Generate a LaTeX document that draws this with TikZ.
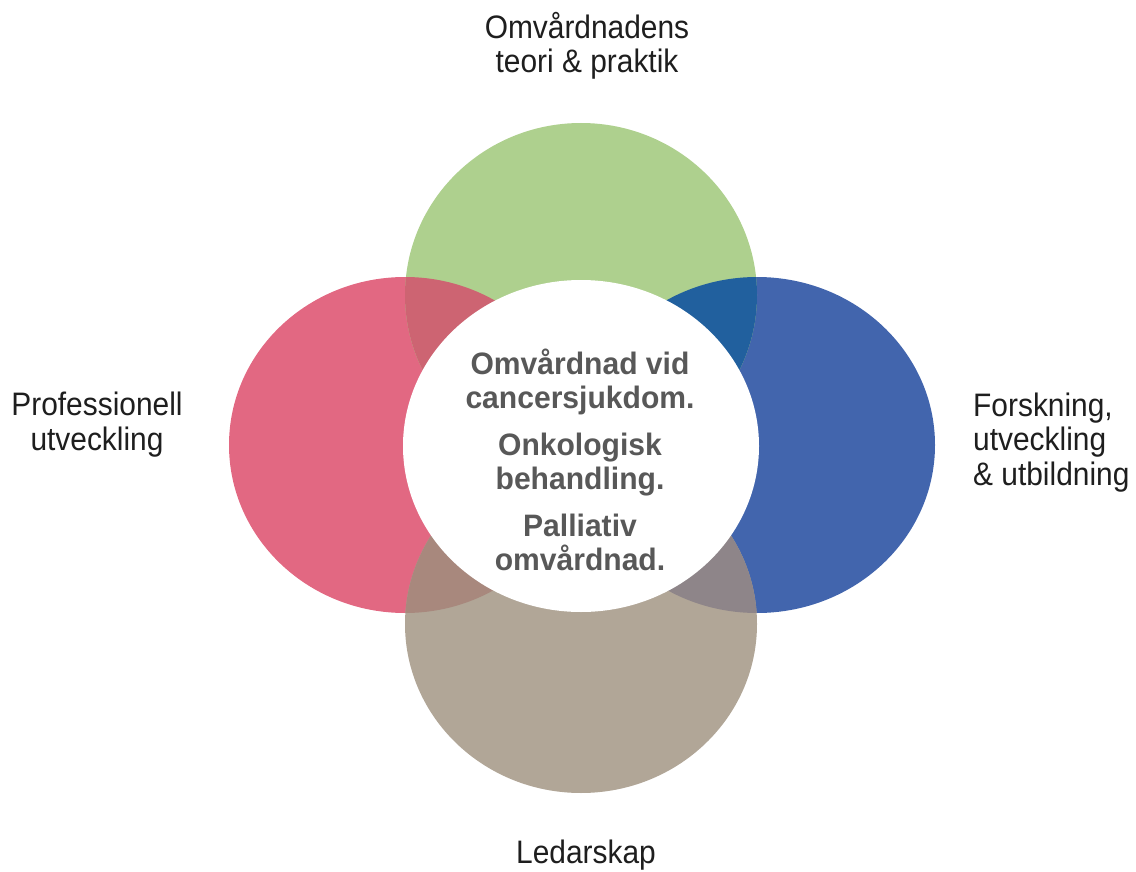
\documentclass[tikz,border=0pt]{standalone}
\usepackage{fontspec}
\setmainfont{Liberation Sans}
\newfontfamily\labelfont[FakeStretch=0.92]{Liberation Sans}
\newfontfamily\centerfont[FakeStretch=0.97]{Liberation Sans Bold}
\definecolor{cgreen}{RGB}{174,208,142}
\definecolor{cpink}{RGB}{226,104,130}
\definecolor{cblue}{RGB}{66,101,173}
\definecolor{ctaupe}{RGB}{177,166,151}
\definecolor{cgp}{RGB}{205,100,114}
\definecolor{cgb}{RGB}{33,96,158}
\definecolor{cpt}{RGB}{168,136,125}
\definecolor{cbt}{RGB}{142,133,137}
\definecolor{ctext}{RGB}{88,88,88}
\definecolor{clabel}{RGB}{30,30,30}
\begin{document}
\begin{tikzpicture}[x=1pt,y=-1pt,
  lbl/.style={inner sep=0pt,anchor=base,text=clabel,font=\labelfont\fontsize{32.5}{34.5}\selectfont},
  ctr/.style={inner sep=0pt,anchor=base,text=ctext,align=center,font=\centerfont\fontsize{31}{34}\selectfont}]
\useasboundingbox (0,0) rectangle (1136,872);
% ellipses
\fill[cpink] (405,445) ellipse [x radius=176,y radius=168];
\fill[cblue] (757,445) ellipse [x radius=178,y radius=168];
\fill[cgreen] (581,295) ellipse [x radius=176,y radius=172];
\fill[ctaupe] (581,624) ellipse [x radius=176,y radius=169];
% overlaps
\begin{scope}
  \clip (581,295) ellipse [x radius=176,y radius=172];
  \fill[cgp] (405,445) ellipse [x radius=176,y radius=168];
  \fill[cgb] (757,445) ellipse [x radius=178,y radius=168];
\end{scope}
\begin{scope}
  \clip (581,624) ellipse [x radius=176,y radius=169];
  \fill[cpt] (405,445) ellipse [x radius=176,y radius=168];
  \fill[cbt] (757,445) ellipse [x radius=178,y radius=168];
\end{scope}
% centre
\fill[white] (581,446) ellipse [x radius=178,y radius=166];
\node[ctr] (core) at (580,570) {Omvårdnad vid\\cancersjukdom.\\[13pt]Onkologisk\\behandling.\\[13pt]Palliativ\\omvårdnad.};
% labels
\node[lbl,align=center] (top) at (587,73) {Omvårdnadens\\teori \& praktik};
\node[lbl,align=center] (left) at (97,450) {Professionell\\utveckling};
\node[lbl,align=left,anchor=base west] (right) at (973,485) {Forskning,\\utveckling\\\& utbildning};
\node[lbl] (bottom) at (586,863) {Ledarskap};
\end{tikzpicture}
\end{document}
